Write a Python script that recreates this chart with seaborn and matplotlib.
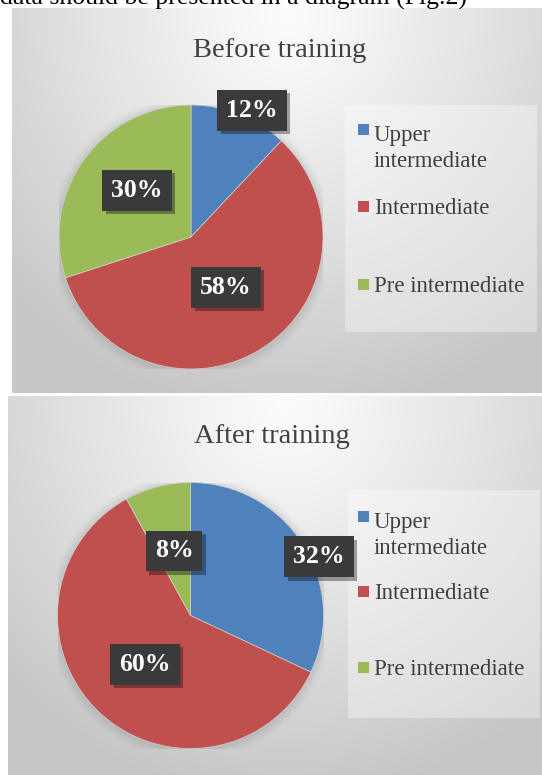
import numpy as np
import matplotlib
matplotlib.use('Agg')
import matplotlib.pyplot as plt
import seaborn as sns
from matplotlib.patches import Rectangle, Circle
import matplotlib.patheffects as pe

# ---------------- data ----------------
categories = ['Upper\nintermediate', 'Intermediate', 'Pre intermediate']
before_values = [12, 58, 30]
after_values = [32, 60, 8]
titles = ['Before training', 'After training']
caption = 'data should be presented in a diagram (Fig.2)'

# ---------------- style ----------------
sns.set_theme(style='white')
plt.rcParams['font.family'] = ['Liberation Serif', 'DejaVu Serif']
palette = sns.color_palette(['#4F81BD', '#C0504D', '#9BBB59'])

W, H = 542, 775
fig = plt.figure(figsize=(W / 100, H / 100), dpi=100)
fig.patch.set_facecolor('white')


def px_rect(x0, y0, x1, y1):
    return [x0 / W, 1 - y1 / H, (x1 - x0) / W, (y1 - y0) / H]


def fx(x):
    return x / W


def fy(y):
    return 1 - y / H


def gradient_panel(x0, y0, x1, y1, cx=0.52, cy=0.02):
    ax = fig.add_axes(px_rect(x0, y0, x1, y1), zorder=0)
    h, w = int(y1 - y0), int(x1 - x0)
    v, u = np.mgrid[0:1:h * 1j, 0:1:w * 1j]
    d = np.sqrt(((u - cx) / 0.75) ** 2 + ((v - cy) / 1.05) ** 2)
    val = (252 - 54 * np.clip(d, 0, 1) ** 1.1) / 255.0
    img = np.dstack([val, val, val])
    ax.imshow(img, aspect='auto', extent=[0, 1, 0, 1], interpolation='bilinear')
    ax.set_axis_off()
    return ax


# caption (cut off at the top, as in the source page)
fig.text(0.0, fy(5), caption, ha='left', va='baseline', fontsize=18.5, color='black')

LINE_PX = 30  # legend line pitch in pixels

panels = [
    dict(rect=(12, 8, 542, 393), values=before_values, title=titles[0],
         title_xy=(280, 57), pie=(191, 237, 132),
         leg_box=(345, 105, 537, 332), leg_baselines=[137, 214, 292],
         label_pos=[(0.462, 0.962), (0.265, -0.379), (-0.409, 0.356)]),
    dict(rect=(8, 396, 542, 775), values=after_values, title=titles[1],
         title_xy=(271.5, 443), pie=(190.5, 615.5, 133),
         leg_box=(348, 490, 540, 718), leg_baselines=[524, 599, 675],
         label_pos=[(0.966, 0.44), (-0.342, -0.365), (-0.124, 0.485)]),
]

for p in panels:
    x0, y0, x1, y1 = p['rect']
    gradient_panel(x0, y0, x1, y1)
    fig.text(fx(p['title_xy'][0]), fy(p['title_xy'][1]), p['title'],
             ha='center', va='baseline', fontsize=20.5, color='#404040', zorder=5)

    # legend background box
    lx0, ly0, lx1, ly1 = p['leg_box']
    fig.patches.append(Rectangle((fx(lx0), fy(ly1)), (lx1 - lx0) / W, (ly1 - ly0) / H,
                                 transform=fig.transFigure, facecolor='white',
                                 alpha=0.35, edgecolor='none', zorder=1))

    cx, cy, r = p['pie']
    ax = fig.add_axes(px_rect(cx - r, cy - r, cx + r, cy + r), zorder=2)
    # soft shadow
    for k, a in enumerate([0.05, 0.04, 0.035, 0.03, 0.025, 0.02]):
        ax.add_patch(Circle((0.0, -0.01), 1.0 + 0.012 * (k + 1), color='#707070',
                            alpha=a, lw=0, zorder=0))
    wedges, _ = ax.pie(p['values'], colors=palette, startangle=90, counterclock=False,
                       radius=1.0, wedgeprops=dict(linewidth=0.5, edgecolor='#d0d0d0'))
    for w_ in wedges:
        w_.set_zorder(2)
    ax.set_xlim(-1, 1)
    ax.set_ylim(-1, 1)
    ax.set_aspect('auto')
    ax.set_axis_off()

    for v, (lx, ly) in zip(p['values'], p['label_pos']):
        t = ax.text(lx, ly, f'{v}%', ha='center', va='center', fontsize=18.5,
                    fontweight='bold', color='white', zorder=4,
                    bbox=dict(boxstyle='square,pad=0.35', facecolor='#3a3a3c',
                              edgecolor='none'))
        t.get_bbox_patch().set_path_effects([
            pe.SimplePatchShadow(offset=(2.5, -2.5), shadow_rgbFace='black', alpha=0.35),
            pe.Normal()])

    # legend entries (markers share the wedge colours)
    for wdg, lab, base in zip(wedges, categories, p['leg_baselines']):
        fig.patches.append(Rectangle((fx(358), fy(base - 2)), 11 / W, 11 / H,
                                     transform=fig.transFigure,
                                     facecolor=wdg.get_facecolor(), edgecolor='none',
                                     zorder=6))
        n_extra = lab.count('\n')
        fig.text(fx(374), fy(base + LINE_PX * n_extra), lab, ha='left', va='baseline',
                 fontsize=16.5, color='#404040', linespacing=1.3, zorder=6)

fig.savefig('out.png', dpi=100, facecolor='white')
